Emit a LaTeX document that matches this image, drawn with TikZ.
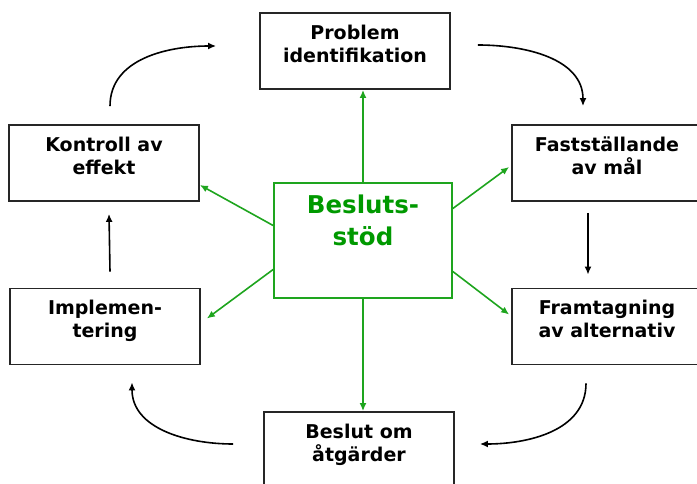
\documentclass[tikz,border=0pt]{standalone}
\usepackage{fontspec}
\setmainfont{DejaVu Sans}
\usepackage{xcolor}
\usepackage{tikz}
\usetikzlibrary{shapes,arrows.meta}
\definecolor{stodgreen}{RGB}{0,153,0}
\definecolor{stodline}{RGB}{30,165,30}
\tikzstyle{block} = [rectangle, draw=black!85, line width=1.8pt, fill=white, text centered, align=center, minimum width=190pt, minimum height=76pt, inner sep=0pt, font=\fontsize{19}{23}\selectfont\bfseries, text depth=15pt]
\tikzstyle{hub} = [rectangle, draw=stodline, line width=1.7pt, fill=white, text centered, align=center, minimum width=178pt, minimum height=115pt, inner sep=0pt, text=stodgreen, font=\fontsize{24.5}{32}\selectfont\bfseries, text depth=41pt]
\tikzstyle{line} = [draw, line width=1.6pt, -{Latex[length=8pt,width=7pt]}]
\tikzstyle{spoke} = [draw=stodline, line width=1.6pt, -{Latex[length=8pt,width=7pt]}]

\begin{document}
\begin{tikzpicture}[x=1pt,y=-1pt]
\useasboundingbox (0,0) rectangle (697,484);
\clip (0,0) rectangle (697,484);
\node [block] (prob) at (355,51) {Problem\\identifikation};
\node [block] (fast) at (607,163) {Fastställande\\av mål};
\node [block] (fram) at (607,326.5) {Framtagning\\av alternativ};
\node [block] (beslut) at (359,450) {Beslut om\\åtgärder};
\node [block] (impl) at (105,326.5) {Implemen-\\tering};
\node [block] (kontr) at (104,163) {Kontroll av\\effekt};
\node [hub] (stod) at (363,240.5) {Besluts-\\stöd};
% from the centre
\path [spoke] (stod.north) -- (stod.north |- prob.south);
\path [spoke] (stod.south) -- (stod.south |- beslut.north);
\path [spoke] ([yshift=32pt]stod.east) -- ([xshift=-2pt,yshift=-4pt]fast.west);
\path [spoke] ([yshift=-31pt]stod.east) -- ([xshift=-2pt,yshift=12pt]fram.west);
\path [spoke] ([yshift=15pt]stod.west) -- ([yshift=-22pt]kontr.east);
\path [spoke] ([yshift=-29pt]stod.west) -- ([xshift=6pt,yshift=8pt]impl.east);
% the cycle
\path [line] ([xshift=27pt,yshift=6pt]prob.east) to[out=0,in=90] ([xshift=-24pt,yshift=18pt]fast.north);
\path [line] ([xshift=-19pt,yshift=-11pt]fast.south) -- ([xshift=-19pt,yshift=13pt]fram.north);
\path [line] ([xshift=-21pt,yshift=-18pt]fram.south) to[out=-90,in=0] ([xshift=25pt,yshift=6pt]beslut.east);
\path [line] ([xshift=-30pt,yshift=6pt]beslut.west) to[out=180,in=-90] ([xshift=27pt,yshift=-17pt]impl.south);
\path [line] ([xshift=5pt,yshift=16pt]impl.north) -- ([xshift=5pt,yshift=-12pt]kontr.south);
\path [line] ([xshift=6pt,yshift=18pt]kontr.north) to[out=90,in=180] ([xshift=-43pt,yshift=5pt]prob.west);
\end{tikzpicture}
\end{document}
